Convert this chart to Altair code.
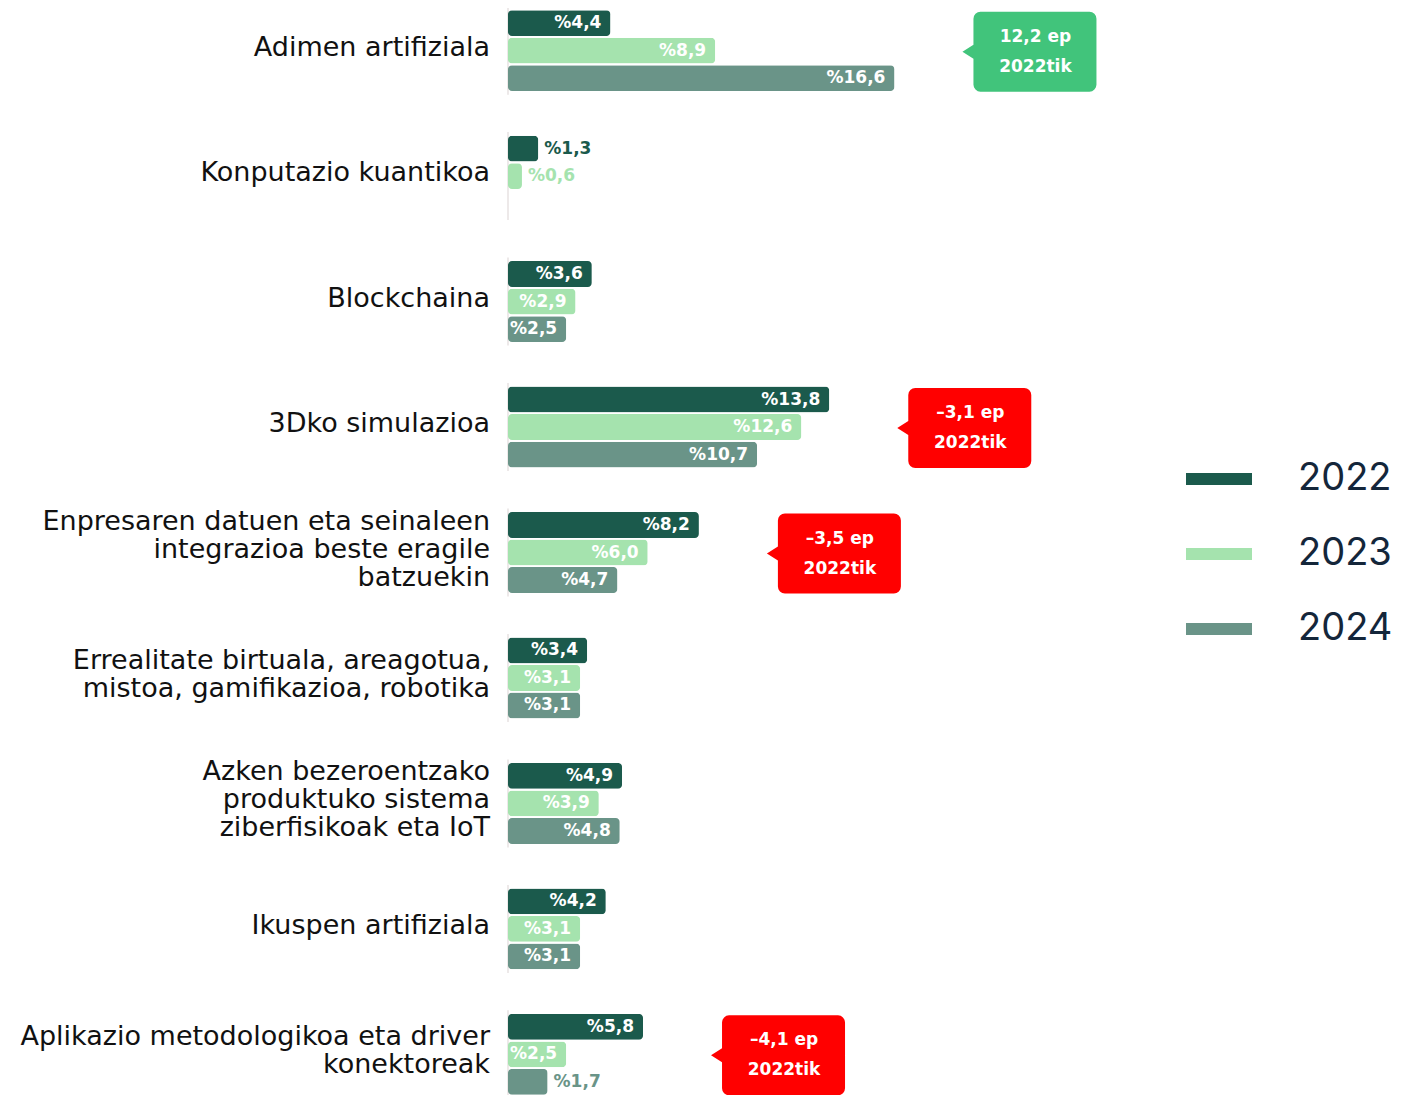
import math
import altair as alt
import pandas as pd

categories = [
    "Adimen artifiziala",
    "Konputazio kuantikoa",
    "Blockchaina",
    "3Dko simulazioa",
    "Enpresaren datuen eta seinaleen\nintegrazioa beste eragile\nbatzuekin",
    "Errealitate birtuala, areagotua,\nmistoa, gamifikazioa, robotika",
    "Azken bezeroentzako\nproduktuko sistema\nziberfisikoak eta IoT",
    "Ikuspen artifiziala",
    "Aplikazio metodologikoa eta driver\nkonektoreak",
]
years = ["2022", "2023", "2024"]
v2022 = [4.4, 1.3, 3.6, 13.8, 8.2, 3.4, 4.9, 4.2, 5.8]
v2023 = [8.9, 0.6, 2.9, 12.6, 6.0, 3.1, 3.9, 3.1, 2.5]
v2024 = [16.6, None, 2.5, 10.7, 4.7, 3.1, 4.8, 3.1, 1.7]
colors = ["#1b5a4c", "#a5e3ae", "#6a9488"]

callout_cats = [categories[0], categories[3], categories[4], categories[8]]
callout_text = ["12,2 ep\n2022tik", "–3,1 ep\n2022tik", "–3,5 ep\n2022tik", "–4,1 ep\n2022tik"]
callout_pos = [True, False, False, False]

rows = []
for i, c in enumerate(categories):
    for y, vals in zip(years, [v2022, v2023, v2024]):
        v = vals[i]
        if v is None:
            continue
        rows.append({"cat": c, "year": y, "value": v,
                     "label": "%" + f"{v:.1f}".replace(".", ",")})
df = pd.DataFrame(rows)
catdf = pd.DataFrame({"cat": categories, "value": [0] * len(categories),
                      "nlines": [c.count("\n") + 1 for c in categories]})

cdf = []
for c, t, p in zip(callout_cats, callout_text, callout_pos):
    i = categories.index(c)
    mx = max(x for x in [v2022[i], v2023[i], v2024[i]] if x is not None)
    cdf.append({"cat": c, "text": t, "pos": "up" if p else "down", "value": mx})
cdf = pd.DataFrame(cdf)

xscale = alt.Scale(domain=[0, 37.8], nice=False, zero=True)
yscale = alt.Scale(domain=categories, paddingInner=0.32, paddingOuter=0)
Y = alt.Y("cat:N", scale=yscale, sort=categories, axis=None)
X = alt.X("value:Q", scale=xscale, axis=None)
YO = alt.YOffset("year:N", scale=alt.Scale(domain=years, paddingInner=0.06, paddingOuter=0.08))
C = alt.Color("year:N", scale=alt.Scale(domain=years, range=colors),
              legend=alt.Legend(
                  title=None, orient="none", legendX=678, legendY=438,
                  padding=0,
                  symbolType="M-1,-0.18L1,-0.18L1,0.18L-1,0.18Z",
                  symbolSize=4356, symbolStrokeWidth=0, symbolOpacity=1,
                  labelFont="Inter", labelFontSize=38, labelColor="#14263a",
                  labelOffset=46, rowPadding=23, labelLimit=200))

base = alt.Chart(df)
cats = alt.Chart(catdf)

axisline = cats.mark_tick(
    orient="vertical", size=88, thickness=2, color="#e6e0e0"
).encode(y=Y, x=X)

LH = 28
catlayers = []
for n in (1, 2, 3):
    catlayers.append(
        cats.transform_filter(f"datum.nlines == {n}").mark_text(
            align="right", baseline="middle", dx=-18, dy=-(n - 1) * LH / 2 - 3,
            lineBreak="\n", lineHeight=LH,
            font="DejaVu Sans", fontSize=27, color="#111111"
        ).encode(y=Y, x=X, text="cat:N")
    )

bars = base.mark_bar(cornerRadius=4).encode(y=Y, x=X, yOffset=YO, color=C)

inside = base.transform_filter("datum.value >= 2").mark_text(
    align="right", baseline="middle", dx=-9, font="DejaVu Sans", fontWeight="bold",
    fontSize=17, color="white"
).encode(y=Y, x=X, yOffset=YO, text="label:N")

outside = base.transform_filter("datum.value < 2").mark_text(
    align="left", baseline="middle", dx=6, font="DejaVu Sans", fontWeight="bold",
    fontSize=17
).encode(y=Y, x=X, yOffset=YO, text="label:N", color=C)

# speech-bubble outline: rounded box with a small pointer on the left
W, H, TIP, R, PH = 134.0, 80.0, 11.0, 7.0, 7.0
s = W / 2.0


def P(px, py):
    return f"{px / s - 1:.4f},{py / s - H / W:.4f}"


def corner(cx, cy, a0, a1):
    pts = []
    for k in range(1, 5):
        a = math.radians(a0 + (a1 - a0) * k / 4)
        pts.append("L" + P(cx + R * math.cos(a), cy + R * math.sin(a)))
    return "".join(pts)


bx0 = TIP
path = "M" + P(0, H / 2)
path += "L" + P(bx0, H / 2 - PH)
path += "L" + P(bx0, R) + corner(bx0 + R, R, 180, 270)
path += "L" + P(W - R, 0) + corner(W - R, R, 270, 360)
path += "L" + P(W, H - R) + corner(W - R, H - R, 0, 90)
path += "L" + P(bx0 + R, H) + corner(bx0 + R, H - R, 90, 180)
path += "L" + P(bx0, H / 2 + PH) + "Z"

cbase = alt.Chart(cdf)
bubble = cbase.mark_point(shape=path, size=W * W, filled=True, opacity=1,
                          strokeWidth=0, xOffset=135, yOffset=1).encode(
    y=Y, x=X,
    fill=alt.condition("datum.pos == 'up'", alt.value("#41c47b"), alt.value("#ff0000")),
)
btext = cbase.mark_text(align="center", baseline="middle", dx=141, dy=-14, lineBreak="\n",
                        lineHeight=30, font="DejaVu Sans", fontWeight="bold",
                        fontSize=17, color="white").encode(
    y=Y, x=X, text="text:N",
)

chart = alt.layer(axisline, *catlayers, bars, inside, outside, bubble, btext).properties(
    width=880, height=1089,
    autosize=alt.AutoSizeParams(type="none"),
    padding={"left": 500, "top": 0, "right": 8, "bottom": 0},
    background="white",
).configure_view(stroke=None)

chart.save("out.html", embed_options={"renderer": "svg", "actions": False})
